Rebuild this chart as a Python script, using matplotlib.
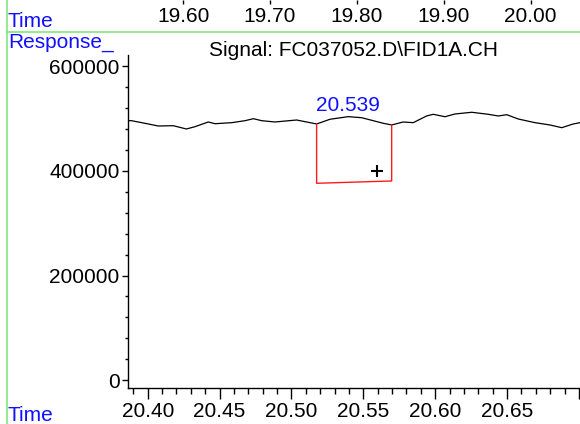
import numpy as np
import matplotlib
matplotlib.use('Agg')
import matplotlib.pyplot as plt
from matplotlib.lines import Line2D
from matplotlib.ticker import MultipleLocator, FixedLocator

plt.rcParams['font.family'] = ['Liberation Sans', 'DejaVu Sans']
plt.rcParams['font.size'] = 15

# FID signal trace (time in min, response)
times = [20.3842, 20.3887, 20.3981, 20.4074, 20.4178, 20.4269, 20.4329, 20.4421,
         20.4468, 20.4585, 20.4677, 20.4735, 20.4793, 20.4885, 20.5036, 20.5175,
         20.5268, 20.5395, 20.5488, 20.5639, 20.5697, 20.5777, 20.5847, 20.5940,
         20.5986, 20.6068, 20.6137, 20.6254, 20.6369, 20.6439, 20.6497, 20.6578,
         20.6694, 20.6798, 20.6880, 20.6960, 20.7007]
response = [496300, 496300, 491300, 486100, 486700, 480400, 484800, 493800,
            490500, 492500, 496300, 500100, 496300, 493800, 497600, 490000,
            499000, 504000, 502000, 491300, 488100, 493800, 492500, 505300,
            508500, 503900, 509100, 512400, 508500, 505300, 507800, 499500,
            492500, 488100, 482900, 490000, 492500]

# integration event for the peak
peak_rt = 20.539
int_start, int_end = 20.5175, 20.5697
base_start, base_end = 376500, 380900
cursor_t, cursor_v = 20.5594, 400000

top_ticks = [19.60, 19.70, 19.80, 19.90, 20.00]
title = 'Signal: FC037052.D\\FID1A.CH'

W, H = 580, 424
fig = plt.figure(figsize=(W / 100, H / 100), dpi=100)

# main axes
ax = fig.add_axes([128 / W, (H - 388) / H, (W - 128) / W, (388 - 55) / H])
ax.plot(times, response, color='black', lw=0.9)

y0 = np.interp(int_start, times, response)
y1 = np.interp(int_end, times, response)
ax.plot([int_start, int_start, int_end, int_end], [y0, base_start, base_end, y1],
        color='#ff1a1a', lw=1.0)
ax.plot(cursor_t, cursor_v, marker='+', color='black', ms=8, mew=1.5)
ax.annotate(f'{peak_rt:.3f}', xy=(peak_rt, np.interp(peak_rt, times, response)),
            xytext=(0, 1), textcoords='offset points', ha='center', va='bottom',
            color='#1010ff', fontsize=15)

ax.set_xlim(20.3863, 20.7007)
ax.set_ylim(-15300, 622000)
ax.xaxis.set_major_locator(MultipleLocator(0.05))
ax.xaxis.set_minor_locator(MultipleLocator(0.01))
ax.yaxis.set_major_locator(MultipleLocator(200000))
ax.yaxis.set_minor_locator(MultipleLocator(40000))
ax.xaxis.set_major_formatter(matplotlib.ticker.FuncFormatter(
    lambda v, p: f'{v:.2f}' if v < 20.68 else ''))
ax.yaxis.set_major_formatter(matplotlib.ticker.FuncFormatter(lambda v, p: f'{v:.0f}'))
for s in ['top', 'right']:
    ax.spines[s].set_visible(False)
for s in ['left', 'bottom']:
    ax.spines[s].set_linewidth(1.0)
ax.tick_params(axis='x', which='major', length=8, width=1, pad=2)
ax.tick_params(axis='x', which='minor', length=4, width=1)
ax.tick_params(axis='y', which='major', length=4, width=1, pad=2)
ax.tick_params(axis='y', which='minor', length=2, width=1)
ax.patch.set_alpha(0)

# upper time strip
tax = fig.add_axes([7 / W, (H - 32) / H, (W - 7) / W, 32 / H])
tax.set_xlim(19.3973, 20.0567)
tax.set_ylim(0, 1)
tax.xaxis.set_major_locator(FixedLocator(top_ticks))
tax.xaxis.set_major_formatter(matplotlib.ticker.FuncFormatter(lambda v, p: f'{v:.2f}'))
tax.tick_params(axis='x', top=True, bottom=False, labeltop=True, labelbottom=False,
                direction='in', length=3, width=1, pad=-19)
tax.set_yticks([])
for s in tax.spines.values():
    s.set_visible(False)
tax.patch.set_alpha(0)

# frame lines
green = '#80e880'
fig.add_artist(Line2D([7 / W, 7 / W], [0, 1], color=green, lw=1.2))
fig.add_artist(Line2D([7 / W, 1], [1 - 32 / H, 1 - 32 / H], color=green, lw=1.2))

fig.text(8 / W, 1 - 27 / H, 'Time', color='#1010ff', fontsize=15, va='baseline')
fig.text(8 / W, 1 - 48 / H, 'Response_', color='#1010ff', fontsize=15, va='baseline')
fig.text(8 / W, 1 - 421 / H, 'Time', color='#1010ff', fontsize=15, va='baseline')
fig.text(353.5 / W, 1 - 56.5 / H, title, color='black', fontsize=15,
         ha='center', va='baseline')

fig.savefig('out.png', dpi=100)
